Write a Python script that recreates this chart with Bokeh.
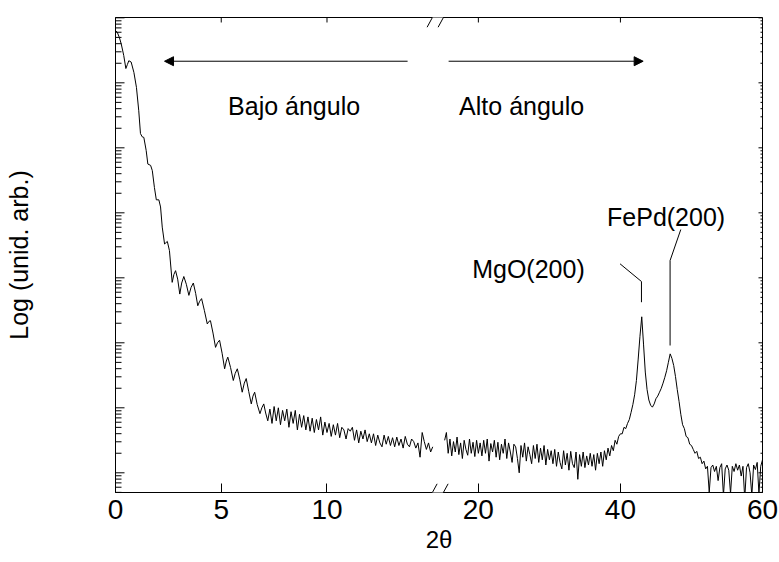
import numpy as np
from bokeh.plotting import figure
from bokeh.models import Range1d, FixedTicker, Arrow, NormalHead, Label
from bokeh.embed import file_html
from bokeh.resources import INLINE

# ---------------- data ----------------
# low-angle region: 2theta in degrees, log10 of intensity (arb. units)
low_fringe_2theta = [0.00, 0.08, 0.18, 0.27, 0.39, 0.49, 0.56, 0.63, 0.74, 0.87,
                     0.99, 1.10, 1.18, 1.26, 1.34, 1.45, 1.53, 1.66, 1.74, 1.84,
                     1.93, 2.05, 2.13, 2.21, 2.32, 2.45, 2.55, 2.68, 2.76, 2.84,
                     2.94, 3.04, 3.13, 3.23, 3.35, 3.47, 3.57, 3.68, 3.79, 3.89,
                     3.98, 4.07, 4.20, 4.34, 4.42, 4.49, 4.61, 4.73, 4.82, 4.92,
                     5.04, 5.16, 5.24, 5.31, 5.44, 5.57, 5.66, 5.76, 5.88, 5.99,
                     6.09, 6.18, 6.30, 6.42, 6.50, 6.58, 6.70, 6.83, 6.92, 7.01,
                     7.10, 7.20]
low_fringe_log = [6.80, 6.78, 6.70, 6.60, 6.42, 6.22, 6.28, 6.34, 6.32, 6.16,
                  5.93, 5.57, 5.22, 5.17, 5.16, 4.96, 4.75, 4.73, 4.65, 4.39,
                  4.20, 4.20, 4.09, 3.78, 3.52, 3.56, 3.42, 2.93, 3.05, 3.11,
                  2.98, 2.75, 2.92, 3.02, 2.90, 2.73, 2.85, 2.92, 2.76, 2.57,
                  2.64, 2.68, 2.50, 2.29, 2.33, 2.34, 2.15, 1.93, 2.00, 2.04,
                  1.84, 1.60, 1.72, 1.78, 1.62, 1.42, 1.53, 1.60, 1.43, 1.24,
                  1.38, 1.45, 1.25, 1.06, 1.18, 1.24, 1.05, 0.91, 1.00, 1.06,
                  0.92, 0.80]
# low-angle tail, sampled every 0.1 deg from 7.3 deg
low_tail_start, low_tail_step = 7.3, 0.1
low_tail_log = [0.98, 0.76, 1.02, 0.80, 1.00, 0.74, 0.96, 0.80,
                0.98, 0.70, 0.94, 0.76, 0.96, 0.66, 0.90, 0.70, 0.88, 0.66,
                0.86, 0.64, 0.84, 0.62, 0.82, 0.66, 0.86, 0.58, 0.78, 0.62,
                0.76, 0.56, 0.74, 0.58, 0.76, 0.54, 0.70, 0.66, 0.52, 0.68,
                0.64, 0.70, 0.50, 0.66, 0.46, 0.64, 0.52, 0.66, 0.48, 0.60,
                0.46, 0.60, 0.42, 0.58, 0.46, 0.40, 0.58, 0.44, 0.56, 0.42,
                0.54, 0.40, 0.55, 0.42, 0.52, 0.38, 0.56, 0.44, 0.40, 0.52,
                0.48, 0.38, 0.46, 0.24, 0.62, 0.48, 0.36, 0.46, 0.32, 0.40]
# high-angle region, sampled every 0.25 deg from 15.25 deg
high_start, high_step = 15.25, 0.25
high_log = [0.50, 0.62, 0.30, 0.52, 0.26, 0.48, 0.32, 0.55, 0.28, 0.46,
            0.22, 0.50, 0.36, 0.27, 0.52, 0.30, 0.47, 0.25, 0.50, 0.30,
            0.46, 0.26, 0.50, 0.30, 0.52, 0.18, 0.45, 0.32, 0.50, 0.24,
            0.47, 0.20, 0.44, 0.30, 0.52, 0.22, 0.46, 0.32, 0.16, 0.44,
            0.40, 0.22, 0.00, 0.42, 0.24, 0.46, 0.18, 0.40, 0.28, 0.14,
            0.42, 0.22, 0.44, 0.16, 0.38, 0.20, 0.42, 0.12, 0.36, 0.20,
            0.34, 0.14, 0.36, 0.10, 0.32, 0.16, 0.06, 0.34, 0.12, 0.30,
            0.04, 0.33, 0.14, 0.08, 0.32, -0.10, 0.28, 0.10, 0.32, 0.08,
            0.26, 0.12, 0.30, 0.10, 0.28, 0.04, 0.30, 0.14, 0.32, 0.10,
            0.34, 0.20, 0.38, 0.26, 0.42, 0.34, 0.50, 0.44, 0.56, 0.60,
            0.60, 0.70, 0.68, 0.76, 0.82, 0.93, 1.05, 1.20, 1.42, 1.75,
            2.10, 2.40, 1.98, 1.55, 1.28, 1.12, 1.04, 1.01, 1.06, 1.14,
            1.18, 1.24, 1.30, 1.38, 1.47, 1.57, 1.70, 1.83, 1.76, 1.65,
            1.48, 1.28, 1.10, 0.90, 0.74, 0.68, 0.56, 0.54, 0.44, 0.42,
            0.36, 0.30, 0.33, 0.22, 0.24, 0.14, 0.18, 0.06, 0.10, -0.30,
            0.08, 0.12, 0.02, 0.10, -0.12, 0.08, 0.14, -0.35, 0.06, 0.12,
            0.04, -0.32, 0.10, 0.02, 0.14, 0.04, 0.12, -0.05, 0.10, -0.40,
            0.08, 0.14, 0.00, -0.35, 0.12, 0.05, 0.16, -0.32, 0.10, 0.20]

low_ticks = [0, 5, 10]
high_ticks = [20, 40, 60]
tick_labels = ["0", "5", "10", "20", "40", "60"]
peak_names = ["MgO(200)", "FePd(200)"]
peak_2theta = [42.96, 46.99]

# ---------------- broken x-axis mapping ----------------
PX_PER_DEG_LOW = 21.14
PX_PER_DEG_HIGH = 7.1
U20 = 17.157                       # plot position of 2theta = 20
SCALE_HIGH = PX_PER_DEG_HIGH / PX_PER_DEG_LOW
U_BREAK = 15.23
PX_PER_DECADE = 65.0


def u_low(t):
    return np.asarray(t, float)


def u_high(t):
    return U20 + (np.asarray(t, float) - 20.0) * SCALE_HIGH


def px(dpx):  # horizontal pixel offset -> plot units
    return dpx / PX_PER_DEG_LOW


def ly(dpx):  # pixels above the 10^0 decade line -> value on the log axis
    return 10 ** (dpx / PX_PER_DECADE)


low_x = np.concatenate([u_low(low_fringe_2theta),
                        u_low(np.round(low_tail_start + low_tail_step * np.arange(len(low_tail_log)), 3))])
low_y = 10 ** np.concatenate([np.array(low_fringe_log), np.array(low_tail_log)])
high_x = u_high(np.round(high_start + high_step * np.arange(len(high_log)), 3))
high_y = 10 ** np.array(high_log)

X_MAX = float(u_high(60))
Y_MIN, Y_MAX = 10 ** -0.303, 10 ** 7.005

FONT = "Liberation Sans"

p = figure(width=779, height=562, output_backend="svg", toolbar_location=None,
           x_range=Range1d(0, X_MAX), y_range=Range1d(Y_MIN, Y_MAX),
           y_axis_type="log",
           min_border_left=115, min_border_right=17, min_border_top=17, min_border_bottom=70)
p.background_fill_color = "white"
p.border_fill_color = "white"
p.outline_line_color = "black"
p.outline_line_width = 1
p.xgrid.visible = False
p.ygrid.visible = False

u_ticks = [float(v) for v in u_low(low_ticks)] + [round(float(v), 4) for v in u_high(high_ticks)]
overrides = {u: lab for u, lab in zip(u_ticks, tick_labels)}

xa = p.xaxis[0]
xa.ticker = FixedTicker(ticks=u_ticks, minor_ticks=[])
xa.major_label_overrides = overrides
xa.major_tick_in = 9
xa.major_tick_out = 0
xa.minor_tick_in = 0
xa.minor_tick_out = 0
xa.major_label_standoff = 7
xa.major_label_text_font = FONT
xa.major_label_text_font_size = "28px"
xa.major_label_text_color = "black"
xa.axis_label = "2θ"
xa.axis_label_text_font = FONT
xa.axis_label_text_font_size = "24px"
xa.axis_label_text_font_style = "normal"
xa.axis_label_text_color = "black"
xa.axis_label_standoff = 4
xa.axis_line_color = "black"
xa.major_tick_line_color = "black"

decades = [10.0 ** n for n in range(0, 8)]
minors = [k * 10.0 ** n for n in range(-1, 7) for k in range(2, 10) if Y_MIN <= k * 10.0 ** n <= Y_MAX]

ya = p.yaxis[0]
ya.ticker = FixedTicker(ticks=[], minor_ticks=[])
ya.major_tick_in = 0
ya.major_tick_out = 0
ya.minor_tick_in = 0
ya.minor_tick_out = 0
ya.major_label_standoff = 0
ya.axis_label = "Log (unid. arb.)"
ya.axis_label_text_font = FONT
ya.axis_label_text_font_size = "25px"
ya.axis_label_text_font_style = "normal"
ya.axis_label_text_color = "black"
ya.axis_label_standoff = 83
ya.axis_line_color = "black"

# inward ticks drawn inside the frame: left (log), right (log), top (x)
n_maj, n_min = len(decades), len(minors)
p.segment(x0=[0.0] * n_maj, y0=decades, x1=[px(9)] * n_maj, y1=decades, line_color="black", line_width=1)
p.segment(x0=[0.0] * n_min, y0=minors, x1=[px(6)] * n_min, y1=minors, line_color="black", line_width=1)
p.segment(x0=[X_MAX - px(4)] * n_maj, y0=decades, x1=[X_MAX] * n_maj, y1=decades, line_color="black", line_width=1)
p.segment(x0=[X_MAX - px(2)] * n_min, y0=minors, x1=[X_MAX] * n_min, y1=minors, line_color="black", line_width=1)
p.segment(x0=u_ticks, y0=[Y_MAX] * len(u_ticks), x1=u_ticks, y1=[Y_MAX / ly(5)] * len(u_ticks),
          line_color="black", line_width=1)

# data curves
p.line(low_x, low_y, line_color="black", line_width=1)
p.line(high_x, high_y, line_color="black", line_width=1)

# axis break marks (bottom and top)
bottom_y0, bottom_y1 = ly(-29.4), ly(-11.0)
top_y0, top_y1 = ly(445.6), ly(464.0)
for (ya0, ya1, yline) in [(bottom_y0, bottom_y1, Y_MIN), (top_y0, top_y1, Y_MAX)]:
    p.add_layout(Arrow(end=None, x_start=U_BREAK - px(5.5), x_end=U_BREAK + px(5.5),
                       y_start=yline, y_end=yline, line_color="white", line_width=3))
    for off in (-5.5, 5.5):
        p.add_layout(Arrow(end=None, x_start=U_BREAK + px(off - 5), x_end=U_BREAK + px(off + 5),
                           y_start=ya0, y_end=ya1, line_color="black", line_width=1))

# region arrows and texts
arrow_y = ly(411.6)
p.add_layout(Arrow(end=NormalHead(size=9, fill_color="black", line_color="black", line_width=1),
                   x_start=U_BREAK - px(30), x_end=px(49), y_start=arrow_y, y_end=arrow_y,
                   line_color="black", line_width=1))
p.add_layout(Arrow(end=NormalHead(size=9, fill_color="black", line_color="black", line_width=1),
                   x_start=U_BREAK + px(11), x_end=float(u_high(43.2)), y_start=arrow_y, y_end=arrow_y,
                   line_color="black", line_width=1))

text_y = ly(367.3)
p.add_layout(Label(x=px(178.5), y=text_y, text="Bajo ángulo", text_font=FONT, text_font_size="25px",
                   text_align="center", text_baseline="alphabetic", text_color="black"))
p.add_layout(Label(x=U_BREAK + px(84), y=text_y, text="Alto ángulo", text_font=FONT, text_font_size="25px",
                   text_align="center", text_baseline="alphabetic", text_color="black"))

# peak labels with leader lines
mgo_u = float(u_high(peak_2theta[0]))
fepd_u = float(u_high(peak_2theta[1]))
p.add_layout(Label(x=mgo_u - px(56.7), y=ly(204.3), text=peak_names[0], text_font=FONT, text_font_size="25px",
                   text_align="right", text_baseline="alphabetic", text_color="black"))
p.add_layout(Label(x=fepd_u - px(4), y=ly(255.8), text=peak_names[1], text_font=FONT, text_font_size="25px",
                   text_align="center", text_baseline="alphabetic", text_color="black"))
p.line([mgo_u - px(21.4), mgo_u, mgo_u], [ly(209.0), ly(191.3), ly(170.6)], line_color="black", line_width=1)
p.line([fepd_u + px(10.7), fepd_u, fepd_u], [ly(243.3), ly(212.3), ly(127.3)], line_color="black", line_width=1)

open("out.html", "w").write(file_html(p, INLINE))
